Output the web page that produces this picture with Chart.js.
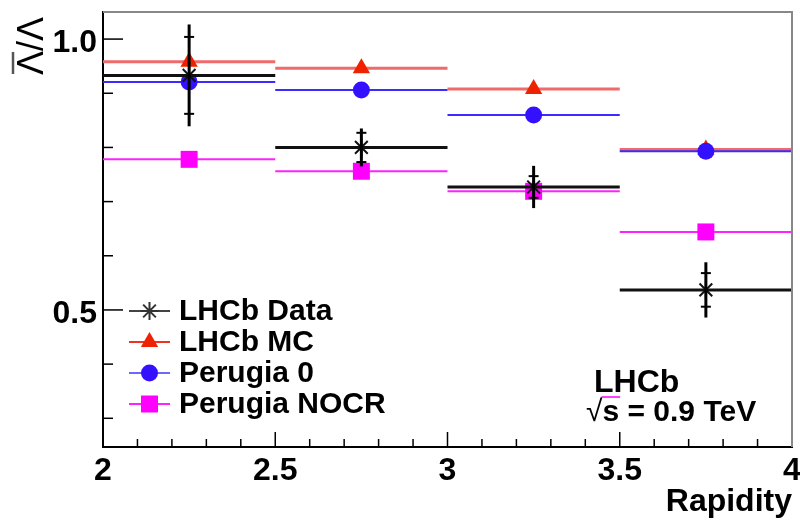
<!DOCTYPE html>
<html>
<head>
<meta charset="utf-8">
<script src="https://cdn.jsdelivr.net/npm/chart.js@4.4.1/dist/chart.umd.min.js"></script>
<style>
  html, body { margin: 0; padding: 0; background: #fff; }
</style>
</head>
<body>
<canvas id="mycanvas" width="800" height="521"></canvas>
<script>
// rapidity bins and the anti-lambda / lambda ratio per bin
var binEdges = [2, 2.5, 3, 3.5, 4];
var lhcbData = [0.933, 0.800, 0.727, 0.537];
var lhcbStat = [0.071, 0.027, 0.020, 0.031];
var lhcbTotal = [0.094, 0.035, 0.039, 0.051];
var lhcbMC = [0.958, 0.946, 0.908, 0.796];
var perugia0 = [0.921, 0.906, 0.860, 0.793];
var perugiaNOCR = [0.778, 0.756, 0.719, 0.644];
var xTickLabels = [2, 2.5, 3, 3.5, 4];
var yTickLabels = [0.5, 1.0];

var FONT = '"Liberation Sans", Arial, Helvetica, sans-serif';
Chart.defaults.font.family = FONT;
Chart.defaults.color = '#000';

// each bin becomes lo -> centre -> hi, then a gap so bins don't join
function binSteps(vals) {
  var pts = [];
  for (var i = 0; i < vals.length; i++) {
    var lo = binEdges[i], hi = binEdges[i + 1];
    pts.push({x: lo, y: vals[i]}, {x: (lo + hi) / 2, y: vals[i]}, {x: hi, y: vals[i]}, {x: hi, y: null});
  }
  return pts;
}

function series(label, vals, lineColor, lineWidth, markColor, style, radius, legendLine) {
  return {
    label: label,
    data: binSteps(vals),
    borderColor: lineColor,
    borderWidth: lineWidth,
    spanGaps: false,
    pointStyle: style,
    pointRadius: function(ctx) { return ctx.dataIndex % 4 === 1 ? radius : 0; },
    pointBackgroundColor: style === 'star' ? 'rgba(0,0,0,0)' : markColor,
    pointBorderColor: markColor,
    pointBorderWidth: style === 'star' ? 2 : 0,
    legendLine: legendLine
  };
}

var datasets = [
  series('LHCb Data', lhcbData, '#111', 3, '#111', 'star', 9, '#444'),
  series('Perugia NOCR', perugiaNOCR, '#ff22ff', 2, '#ff00ff', 'rect', 12, '#ff22ff'),
  series('Perugia 0', perugia0, '#3a2cff', 2, '#3311ff', 'circle', 8.5, '#6f66ff'),
  series('LHCb MC', lhcbMC, '#ef6a6a', 3, '#ee2200', 'triangle', 10, '#ee3322')
];
var legendOrder = ['LHCb Data', 'LHCb MC', 'Perugia 0', 'Perugia NOCR'];

var rootDecor = {
  id: 'rootDecor',
  afterDatasetsDraw: function(chart) {
    var ctx = chart.ctx, xs = chart.scales.x, ys = chart.scales.y;
    ctx.save();
    // error bars on the data points
    ctx.strokeStyle = '#000';
    for (var i = 0; i < lhcbData.length; i++) {
      var px = xs.getPixelForValue((binEdges[i] + binEdges[i + 1]) / 2);
      ctx.lineWidth = 3;
      ctx.beginPath();
      ctx.moveTo(px, ys.getPixelForValue(lhcbData[i] + lhcbTotal[i]));
      ctx.lineTo(px, ys.getPixelForValue(lhcbData[i] - lhcbTotal[i]));
      ctx.stroke();
      ctx.lineWidth = 2;
      [1, -1].forEach(function(s) {
        var py = ys.getPixelForValue(lhcbData[i] + s * lhcbStat[i]);
        ctx.beginPath();
        ctx.moveTo(px - 5, py);
        ctx.lineTo(px + 5, py);
        ctx.stroke();
      });
    }
    ctx.restore();
  },
  afterDraw: function(chart) {
    var ctx = chart.ctx, a = chart.chartArea, xs = chart.scales.x, ys = chart.scales.y;
    ctx.save();
    // frame top and right
    ctx.strokeStyle = '#888';
    ctx.lineWidth = 2;
    ctx.beginPath();
    ctx.moveTo(a.left, a.top);
    ctx.lineTo(a.right, a.top);
    ctx.lineTo(a.right, a.bottom);
    ctx.stroke();

    // inward ticks
    ctx.strokeStyle = '#000';
    ctx.lineWidth = 1.5;
    var v, p, major;
    for (v = 21; v <= 39; v++) {
      major = v % 5 === 0;
      p = xs.getPixelForValue(v / 10);
      ctx.beginPath();
      ctx.moveTo(p, a.bottom);
      ctx.lineTo(p, a.bottom - (major ? 15 : 8));
      ctx.stroke();
    }
    for (v = 3; v <= 10; v++) {
      major = v % 5 === 0;
      p = ys.getPixelForValue(v / 10);
      ctx.beginPath();
      ctx.moveTo(a.left, p);
      ctx.lineTo(a.left + (major ? 20 : 10), p);
      ctx.stroke();
    }

    // legend
    var lx0 = 129, lx1 = 170, ly = 311, step = 31;
    legendOrder.forEach(function(name, k) {
      var ds = datasets.filter(function(d) { return d.label === name; })[0];
      var y = ly + k * step, cx = (lx0 + lx1) / 2;
      ctx.strokeStyle = ds.legendLine;
      ctx.lineWidth = 2;
      ctx.beginPath();
      ctx.moveTo(lx0, y);
      ctx.lineTo(lx1, y);
      ctx.stroke();
      var r = ds.pointRadius({dataIndex: 1});
      ctx.fillStyle = ds.pointBackgroundColor;
      ctx.strokeStyle = ds.pointStyle === 'star' ? '#333' : ds.pointBorderColor;
      ctx.lineWidth = ds.pointBorderWidth;
      Chart.helpers.drawPoint(ctx, {pointStyle: ds.pointStyle, radius: r, rotation: 0, borderWidth: ds.pointBorderWidth}, cx, y);
      ctx.fillStyle = '#000';
      ctx.font = 'bold 30px ' + FONT;
      ctx.textBaseline = 'middle';
      ctx.textAlign = 'left';
      ctx.fillText(name, 179, y + 1);
    });

    // experiment label
    ctx.textBaseline = 'alphabetic';
    ctx.font = 'bold 32px ' + FONT;
    ctx.fillText('LHCb', 594, 392);
    ctx.font = '30px ' + FONT;
    ctx.fillText('\u221A', 586, 421);
    var rw = ctx.measureText('\u221A').width;
    ctx.font = 'bold 30px ' + FONT;
    var sw = ctx.measureText('s').width;
    ctx.fillText('s = 0.9 TeV', 586 + rw, 421);
    ctx.lineWidth = 1.5;
    ctx.beginPath();
    ctx.moveTo(586 + rw - 1, 397);
    ctx.lineTo(586 + rw + sw + 1, 397);
    ctx.stroke();

    // y axis title: Lambda-bar / Lambda, rotated
    ctx.translate(43, 75);
    ctx.rotate(-Math.PI / 2);
    ctx.font = '36px ' + FONT;
    ctx.fillText('\u039B/\u039B', 0, 0);
    var lw = ctx.measureText('\u039B').width;
    ctx.lineWidth = 2.5;
    ctx.strokeStyle = '#555';
    ctx.beginPath();
    ctx.moveTo(1, -30);
    ctx.lineTo(lw - 1, -30);
    ctx.stroke();
    ctx.restore();
  }
};

var ctx = document.getElementById('mycanvas');
var ratioChart = new Chart(ctx, {
  type: 'line',
  data: { datasets: datasets },
  plugins: [rootDecor],
  options: {
    responsive: false,
    animation: false,
    layout: { padding: { top: 12, right: 8, left: 0, bottom: 0 } },
    plugins: { legend: { display: false }, tooltip: { enabled: false } },
    scales: {
      x: {
        type: 'linear', min: 2, max: 4,
        afterBuildTicks: function(s) { s.ticks = xTickLabels.map(function(v) { return {value: v}; }); },
        afterFit: function(s) { s.height = 74; s.paddingLeft = 0; s.paddingRight = 0; },
        grid: { display: true, drawOnChartArea: false, drawTicks: false },
        border: { display: true, color: '#000', width: 2 },
        ticks: {
          color: '#000', padding: 5, maxRotation: 0, autoSkip: false,
          font: { size: 32, weight: 'bold' },
          callback: function(v) { return String(v); }
        },
        title: {
          display: true, text: 'Rapidity', align: 'end', color: '#000',
          font: { size: 32, weight: 'bold' }, padding: { top: 0, bottom: 0 }
        }
      },
      y: {
        type: 'linear', min: 0.247, max: 1.05,
        afterBuildTicks: function(s) { s.ticks = yTickLabels.map(function(v) { return {value: v}; }); },
        afterFit: function(s) { s.width = 103; s.paddingTop = 0; s.paddingBottom = 0; },
        grid: { display: true, drawOnChartArea: false, drawTicks: false },
        border: { display: true, color: '#000', width: 2 },
        ticks: {
          color: '#000', padding: 6, labelOffset: 4,
          font: { size: 32, weight: 'bold' },
          callback: function(v) { return v.toFixed(1); }
        }
      }
    }
  }
});
</script>
</body>
</html>
